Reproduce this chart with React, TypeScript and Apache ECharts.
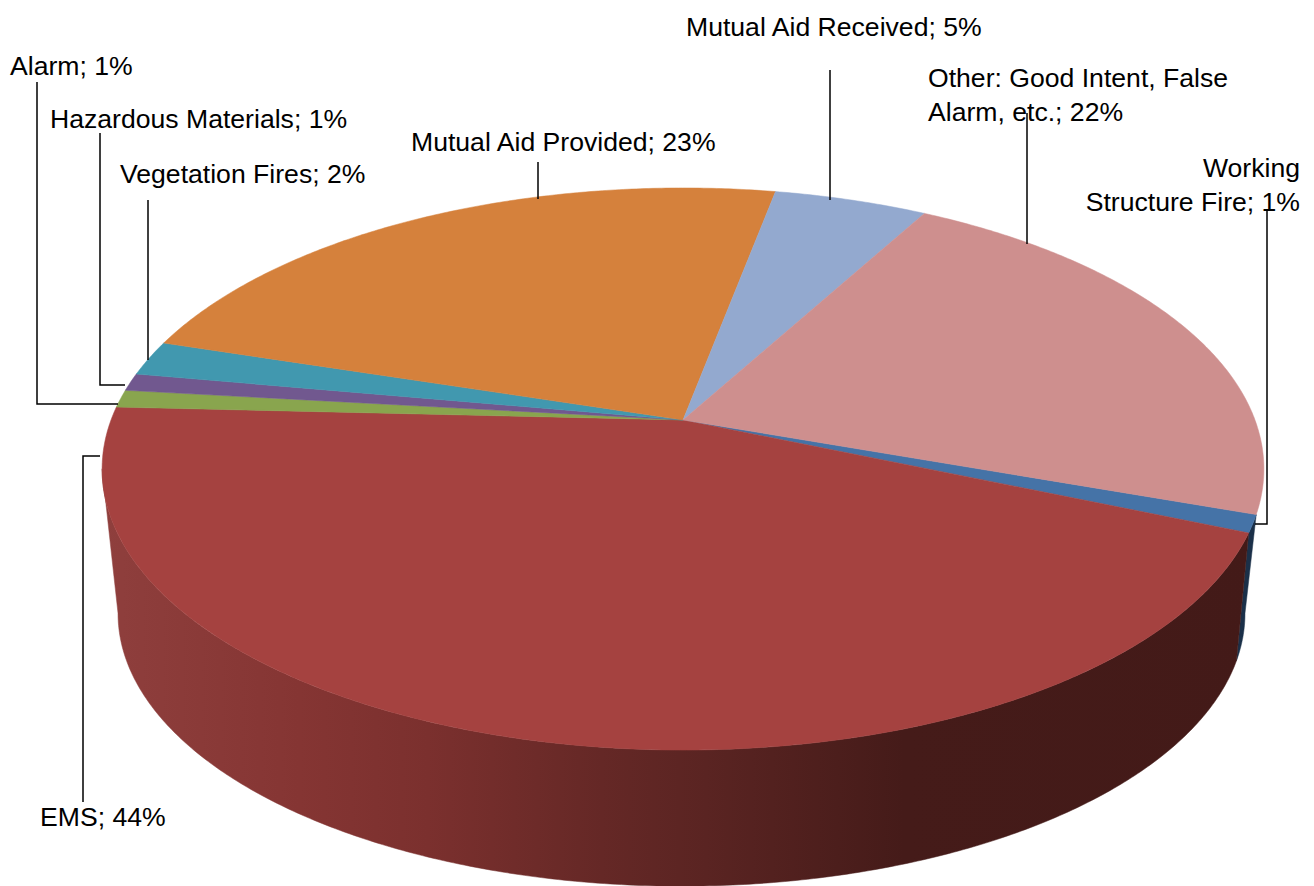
import React, { useEffect, useRef } from "react";
import * as echarts from "echarts";

// Emergency call mix, clockwise from the Working Structure Fire slice.
const names = [
  "Working\nStructure Fire",
  "EMS",
  "Alarm",
  "Hazardous Materials",
  "Vegetation Fires",
  "Mutual Aid Provided",
  "Mutual Aid Received",
  "Other: Good Intent, False\nAlarm, etc.",
];
const shares = [1, 44, 1, 1, 2, 23, 5, 22];
const topColors = ["#4573A7", "#A54240", "#89A54E", "#71588F", "#4198AF", "#D5813C", "#93A9CF", "#CE8F8E"];
const wallColors = ["#1B3049", "#A54240", "#3A4620", "#2F243C", "#1A4049", "#5A3518", "#3D4656", "#5A4444"];

// Label placement: anchor, alignment and leader polyline per slice.
const labelX = [1300, 40, 10, 50, 120, 411, 686, 928];
const labelY = [185, 817, 66, 119, 174, 142, 27, 95];
const labelAlign = ["right", "left", "left", "left", "left", "left", "left", "left"];
const leaders = [
  [[1267, 210], [1267, 524], [1255, 524]],
  [[83, 802], [83, 456], [100, 456]],
  [[37, 82], [37, 404], [118, 404]],
  [[100, 133], [100, 385], [125, 385]],
  [[148, 200], [148, 360]],
  [[538, 162], [538, 199]],
  [[830, 70], [830, 200]],
  [[1027, 113], [1027, 244]],
];

// Projection of the tilted disc: a circle seen in perspective, so its centre sits above the ellipse middle.
const CX = 683;
const CY = 420;
const RX = 572;
const RY = 272.5;
const PERSPECTIVE = 0.1744;
const FIRST_SLICE_START = 109.1;
const BOTTOM_CX = 681.5;
const BOTTOM_CY = 566;
const BOTTOM_SCALE = 0.97;
const WALL_FROM = 100;
const WALL_TO = 260;

const total = shares.reduce((a, b) => a + b, 0);
const sliceStart = (i: number) =>
  FIRST_SLICE_START + (shares.slice(0, i).reduce((a, b) => a + b, 0) / total) * 360;

const project = (deg: number, cx = CX, cy = CY, scale = 1) => {
  const r = (deg * Math.PI) / 180;
  const w = 1 + PERSPECTIVE * Math.cos(r);
  return [cx + (scale * RX * Math.sin(r)) / w, cy - (scale * RY * Math.cos(r)) / w];
};
const bottomPoint = (deg: number) => project(deg, BOTTOM_CX, BOTTOM_CY, BOTTOM_SCALE);

// The lower rim lags the upper one on the right-hand side, where the wall turns out of view.
const bottomAngle = (a: number) => {
  if (a < 110) return WALL_FROM;
  if (a < 180) return a - (3 * (180 - a)) / 67;
  return a;
};

const arc = (from: number, to: number, pick: (d: number) => number[]) => {
  const pts: number[][] = [];
  const n = Math.max(2, Math.ceil(Math.abs(to - from) / 0.5));
  for (let k = 0; k <= n; k++) pts.push(pick(from + ((to - from) * k) / n));
  return pts;
};

const wallGradient = {
  type: "linear",
  global: true,
  x: 102,
  y: 0,
  x2: 1264,
  y2: 0,
  colorStops: [
    { offset: 0, color: "#8F3F3D" },
    { offset: 0.17, color: "#853533" },
    { offset: 0.28, color: "#7B302E" },
    { offset: 0.43, color: "#652826" },
    { offset: 0.52, color: "#5A2422" },
    { offset: 0.69, color: "#451B19" },
    { offset: 1, color: "#431A18" },
  ],
};

const renderWall = (params: any) => {
  const i = params.dataIndex;
  const a0 = sliceStart(i);
  const a1 = a0 + (shares[i] / total) * 360;
  // Slices past the wrap-around are seen from the back only.
  const start = Math.max(a0, WALL_FROM);
  const end = Math.min(a1, WALL_TO);
  if (end <= start) {
    if (a0 < WALL_FROM && a1 <= WALL_FROM) return { type: "group", children: [] };
    return { type: "group", children: [] };
  }
  const upper = arc(start, end, (d) => project(d));
  const lowerFrom = bottomAngle(start);
  const lowerTo = bottomAngle(end);
  const lower = arc(lowerTo, lowerFrom, bottomPoint);
  const fill = names[i] === "EMS" ? wallGradient : wallColors[i];
  return {
    type: "polygon",
    shape: { points: [...upper, ...lower] },
    style: { fill, stroke: fill, lineWidth: 0.5 },
  };
};

const renderTop = (params: any) => {
  const i = params.dataIndex;
  const a0 = sliceStart(i);
  const a1 = a0 + (shares[i] / total) * 360;
  return {
    type: "polygon",
    shape: { points: [[CX, CY], ...arc(a0, a1, (d) => project(d))] },
    style: { fill: topColors[i], stroke: topColors[i], lineWidth: 0.5 },
  };
};

const renderLabel = (params: any) => {
  const i = params.dataIndex;
  return {
    type: "group",
    children: [
      {
        type: "polyline",
        shape: { points: leaders[i] },
        style: { fill: "none", stroke: "#000000", lineWidth: 1.5 },
      },
      {
        type: "text",
        x: labelX[i],
        y: labelY[i],
        style: {
          text: `${names[i]}; ${shares[i]}%`,
          fill: "#000000",
          font: '26.6px "Liberation Sans", Arial, sans-serif',
          lineHeight: 34,
          align: labelAlign[i],
          verticalAlign: "middle",
        },
      },
    ],
  };
};

export default function App() {
  const ref = useRef<HTMLDivElement>(null);
  useEffect(() => {
    const chart = echarts.init(ref.current!, undefined, { renderer: "svg" });
    const data = shares.map((v, i) => ({ name: names[i], value: v }));
    const base = { type: "custom", coordinateSystem: "none", data, silent: true };
    chart.setOption({
      animation: false,
      backgroundColor: "#FFFFFF",
      series: [
        { ...base, name: "walls", renderItem: renderWall, z: 1 },
        { ...base, name: "tops", renderItem: renderTop, z: 2 },
        { ...base, name: "labels", renderItem: renderLabel, z: 3 },
      ],
    });
    return () => chart.dispose();
  }, []);
  return <div ref={ref} style={{ position: "fixed", left: 0, top: 0, width: 1314, height: 886 }} />;
}
